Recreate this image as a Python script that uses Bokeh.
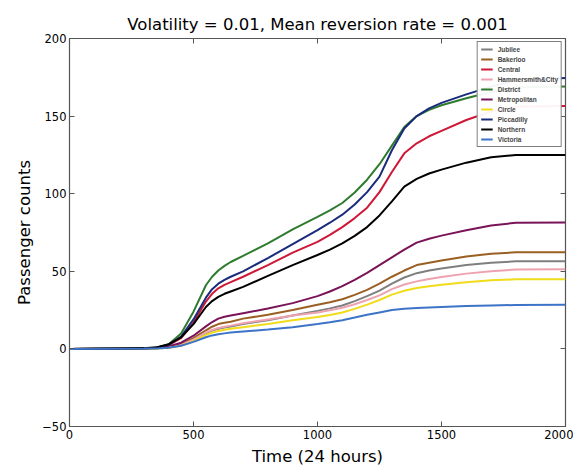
from bokeh.plotting import figure
from bokeh.models import LinearAxis, Legend, LegendItem, Range1d, FixedTicker, CustomJSTickFormatter
from bokeh.embed import file_html
from bokeh.resources import INLINE

# ---- data ----
t = [0, 300, 350, 400, 450, 500, 550, 575, 600, 625, 650, 700, 800, 900, 1000, 1050, 1100, 1150, 1200,
     1250, 1300, 1350, 1400, 1450, 1500, 1600, 1700, 1800, 2000]

jubilee = [0, 0.2, 0.4, 1, 2.5, 6, 10, 11.8, 13, 13.8, 14.5, 16, 18.5, 21.5, 24.5, 26.1, 28, 30.8, 34,
           37.5, 42, 46, 48.8, 50.5, 51.8, 54, 55.5, 56.4, 56.5]
bakerloo = [0, 0.2, 0.4, 1.2, 3, 7, 12, 14.3, 16, 16.9, 17.5, 19.5, 22, 25, 28.5, 30.1, 32, 34.8, 38,
            42, 46.5, 50.5, 54, 55.5, 57, 59.5, 61.3, 62.2, 62.3]
central = [0, 0.3, 0.8, 2.5, 7, 17, 30.5, 35.5, 39, 41.3, 43, 46.5, 54, 62, 69, 73.5, 78.5, 84.3, 91,
           101, 114, 126, 132.5, 137, 140.5, 147.5, 153, 156, 156.5]
hammersmith = [0, 0.2, 0.4, 1, 2.5, 6, 10.5, 12.2, 13.5, 14.3, 15, 16.5, 19, 21.5, 23.5, 24.9, 26.5, 28.8, 31.5,
               34.5, 38.5, 41.5, 43.5, 45, 46.3, 48.5, 50, 51.2, 51.4]
district = [0, 0.3, 0.8, 3, 10, 24, 41, 46.5, 50.5, 53.5, 56, 60, 68, 77, 85, 89.3, 94, 100.8, 109,
            119, 131, 143, 150, 154, 157, 161.5, 165.5, 168.5, 169]
metropolitan = [0, 0.2, 0.5, 1.5, 4, 8.5, 14.5, 17.3, 19.5, 20.7, 21.5, 23, 26, 29.5, 34, 37, 40.5, 44.5, 49,
                54, 59, 64, 68.5, 71, 73, 76.5, 79.5, 81.3, 81.4]
circle = [0, 0.2, 0.3, 0.8, 2, 5, 9, 10.5, 11.5, 12.3, 13, 14, 16, 18.5, 20.5, 21.9, 23.5, 25.8, 28.5,
          31.5, 35, 37.5, 39.3, 40.3, 41.3, 43, 44.2, 44.8, 44.9]
piccadilly = [0, 0.3, 0.8, 2.5, 8, 19, 33, 38.5, 42, 44.5, 46.5, 50, 58.5, 67.5, 76.5, 81.3, 86.5, 93, 101,
              111, 128, 142, 150, 155, 158.5, 164, 169, 173, 174.5]
northern = [0, 0.5, 1, 3, 7.5, 16, 27, 30.8, 33.5, 35.5, 37, 40, 47, 54, 60.5, 64, 68, 72.8, 78.5,
            86, 95, 104.5, 109.5, 113, 115.5, 120, 123.5, 125, 125]
victoria = [0, 0.2, 0.3, 0.8, 2, 4.5, 7.5, 8.7, 9.5, 10, 10.5, 11.2, 12.5, 14, 16, 17.2, 18.5, 20.2, 22,
            23.5, 25, 25.8, 26.3, 26.7, 27, 27.6, 28, 28.3, 28.4]

names = ["Jubilee", "Bakerloo", "Central", "Hammersmith&City", "District",
         "Metropolitan", "Circle", "Piccadilly", "Northern", "Victoria"]
series = [jubilee, bakerloo, central, hammersmith, district,
          metropolitan, circle, piccadilly, northern, victoria]
colors = ["#7f7f7f", "#9a5f22", "#cf1736", "#eea2b0", "#2e7a2e",
          "#7a1458", "#f0dc1a", "#1a2a7c", "#000000", "#3d74c8"]

x_ticks = [0, 500, 1000, 1500, 2000]
y_ticks = [-50, 0, 50, 100, 150, 200]

FONT = "DejaVu Sans"

p = figure(frame_width=496, frame_height=388,
           x_range=Range1d(0, 2000), y_range=Range1d(-50, 200),
           output_backend="svg", toolbar_location=None,
           min_border_left=69, min_border_top=38, min_border_right=8,
           min_border_bottom=40,
           title="Volatility = 0.01, Mean reversion rate = 0.001")
p.title.align = "center"
p.title.text_font = FONT
p.title.text_font_size = "16.5px"
p.title.text_font_style = "normal"
p.title.text_color = "black"

p.grid.visible = False
p.outline_line_color = "#555555"
p.outline_line_width = 1.2

for ax, ticks in ((p.xaxis[0], x_ticks), (p.yaxis[0], y_ticks)):
    ax.ticker = FixedTicker(ticks=ticks)
    ax.major_tick_in = 5
    ax.major_tick_out = 0
    ax.minor_tick_line_color = None
    ax.axis_line_color = "#555555"
    ax.major_tick_line_color = "#555555"
    ax.major_label_text_font = FONT
    ax.major_label_text_font_size = "11.5px"
    ax.major_label_text_color = "black"
    ax.axis_label_text_font = FONT
    ax.axis_label_text_font_size = "16.5px"
    ax.axis_label_text_font_style = "normal"
    ax.axis_label_text_color = "black"
    ax.major_label_standoff = 3

p.xaxis.axis_label = "Time (24 hours)"
p.yaxis.axis_label = "Passenger counts"
p.yaxis.major_label_overrides = {-50: "\u221250"}

for loc, ticks in (("right", y_ticks), ("above", x_ticks)):
    ax = LinearAxis(ticker=FixedTicker(ticks=ticks), major_tick_in=5, major_tick_out=0,
                    minor_tick_line_color=None, axis_line_color=None,
                    major_tick_line_color="#555555",
                    formatter=CustomJSTickFormatter(code="return ''"),
                    major_label_standoff=0)
    p.add_layout(ax, loc)

items = []
for name, ys, c in zip(names, series, colors):
    r = p.line(t, ys, line_color=c, line_width=2)
    items.append(LegendItem(label=name, renderers=[r]))

legend = Legend(items=items, location="top_right")
legend.label_text_font = "Liberation Sans"
legend.label_text_font_size = "6.5px"
legend.label_text_font_style = "bold"
legend.glyph_height = 8
legend.glyph_width = 12
legend.label_height = 8
legend.spacing = 2
legend.padding = 3
legend.margin = 3
legend.label_standoff = 5
legend.border_line_color = "black"
legend.border_line_width = 1
p.add_layout(legend)

open("out.html", "w").write(file_html(p, INLINE))
